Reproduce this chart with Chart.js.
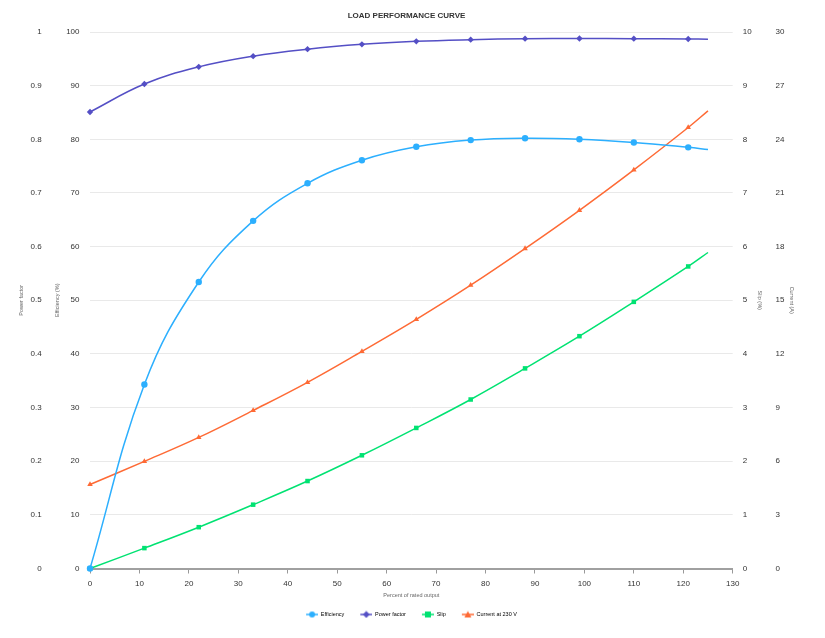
<!DOCTYPE html>
<html>
<head>
<meta charset="utf-8">
<title>Load performance curve</title>
<script src="https://cdn.jsdelivr.net/npm/chart.js@4.4.1/dist/chart.umd.min.js"></script>
<style>
    body { margin: 0; background: #fff; }
    #wrap { width: 825px; height: 638px; position: relative; }
</style>
</head>
<body>
<div id="wrap"><canvas id="loadChart"></canvas></div>
<script>
// percent of rated output (x) - last point only carries the line end, no marker
const loadPct = [0, 11, 22, 33, 44, 55, 66, 77, 88, 99, 110, 121, 125];
const efficiency = [0, 34.3, 53.4, 64.8, 71.8, 76.1, 78.6, 79.85, 80.2, 80.0, 79.4, 78.5, 78.1];
const powerFactor = [0.851, 0.903, 0.935, 0.955, 0.968, 0.977, 0.9826, 0.9857, 0.9876, 0.988, 0.9876, 0.987, 0.9864];
const slip = [0, 0.38, 0.77, 1.19, 1.63, 2.11, 2.62, 3.15, 3.73, 4.33, 4.97, 5.63, 5.89];
const current = [4.7, 5.99, 7.33, 8.84, 10.41, 12.14, 13.93, 15.84, 17.89, 20.03, 22.29, 24.66, 25.59];

const xTicks = { min: 0, max: 130, step: 10 };
const effTicks = { min: 0, max: 100, step: 10 };
const pfTicks = { min: 0, max: 1, step: 0.1 };
const slipTicks = { min: 0, max: 10, step: 1 };
const currentTicks = { min: 0, max: 30, step: 3 };

const FONT = 'Liberation Sans, Arial, Helvetica, sans-serif';
Chart.defaults.font.family = FONT;
Chart.defaults.color = '#333';

const toPoints = (ys) => loadPct.map((x, i) => ({ x: x, y: ys[i] }));
const radii = loadPct.map((x, i) => i === loadPct.length - 1 ? 0 : 3.2);

// legend symbol: short line with the series marker on it
const legendIcon = (color, style) => {
    const c = document.createElement('canvas');
    c.width = 22;
    c.height = 8;
    const g = c.getContext('2d');
    const cx = 16, cy = 4;
    g.strokeStyle = color;
    g.fillStyle = color;
    g.lineWidth = 1.5;
    g.beginPath();
    g.moveTo(10, cy);
    g.lineTo(22, cy);
    g.stroke();
    g.beginPath();
    if (style === 'circle') {
        g.arc(cx, cy, 3, 0, Math.PI * 2);
    } else if (style === 'rectRot') {
        g.moveTo(cx, cy - 3.5); g.lineTo(cx + 3.5, cy); g.lineTo(cx, cy + 3.5); g.lineTo(cx - 3.5, cy);
    } else if (style === 'rect') {
        g.rect(cx - 3, cy - 3, 6, 6);
    } else {
        g.moveTo(cx, cy - 3.5); g.lineTo(cx + 3.5, cy + 3); g.lineTo(cx - 3.5, cy + 3);
    }
    g.closePath();
    g.fill();
    return c;
};

const makeSet = (label, ys, color, style, axis) => ({
    label: label,
    data: toPoints(ys),
    yAxisID: axis,
    borderColor: color,
    backgroundColor: color,
    borderWidth: 1.5,
    pointStyle: style,
    pointRadius: radii,
    pointHoverRadius: radii,
    pointBorderWidth: 0,
    tension: 0.4,
    clip: false,
    legendIcon: legendIcon(color, style)
});

const fixedWidth = (w) => (scale) => { scale.width = w; };

const ctx = document.getElementById('loadChart').getContext('2d');
const chart = new Chart(ctx, {
    type: 'line',
    data: {
        datasets: [
            makeSet('Efficiency', efficiency, '#2caffe', 'circle', 'yEff'),
            makeSet('Power factor', powerFactor, '#544fc5', 'rectRot', 'yPF'),
            makeSet('Slip', slip, '#00e272', 'rect', 'ySlip'),
            makeSet('Current at 230 V', current, '#fe6a35', 'triangle', 'yCur')
        ]
    },
    options: {
        responsive: true,
        maintainAspectRatio: false,
        animation: false,
        layout: { padding: { left: 14, right: 26, top: 0, bottom: 10.8 } },
        plugins: {
            title: {
                display: true,
                text: 'LOAD PERFORMANCE CURVE',
                color: '#333',
                font: { size: 8, weight: 'bold' },
                padding: { top: 11, bottom: 11.4 }
            },
            legend: {
                position: 'bottom',
                labels: {
                    usePointStyle: true,
                    pointStyleWidth: 22,
                    padding: 6,
                    color: '#333',
                    font: { size: 5.5 },
                    generateLabels: (ch) => ch.data.datasets.map((ds, i) => ({
                        text: ds.label,
                        datasetIndex: i,
                        pointStyle: ds.legendIcon,
                        fillStyle: ds.borderColor,
                        strokeStyle: ds.borderColor,
                        lineWidth: 0,
                        hidden: !ch.isDatasetVisible(i)
                    }))
                }
            },
            tooltip: { enabled: false }
        },
        scales: {
            x: {
                type: 'linear',
                min: xTicks.min,
                max: xTicks.max,
                ticks: { stepSize: xTicks.step, padding: 5.5, color: '#333', font: { size: 8 } },
                grid: { display: true, drawOnChartArea: false, drawTicks: true, tickLength: 5, color: '#999' },
                border: { display: true, color: '#a0a0a0', width: 2 },
                title: {
                    display: true,
                    text: 'Percent of rated output',
                    color: '#666',
                    font: { size: 5.5 },
                    padding: { top: -2, bottom: 7 }
                }
            },
            yEff: {
                type: 'linear',
                position: 'left',
                min: effTicks.min,
                max: effTicks.max,
                ticks: { stepSize: effTicks.step, padding: 10.5, color: '#333', font: { size: 8 } },
                grid: { color: '#e9e9e9', drawTicks: false },
                border: { display: false },
                title: { display: true, text: 'Efficiency (%)', color: '#666', font: { size: 5.5 }, padding: { top: 4, bottom: 4 } },
                afterFit: fixedWidth(40.3)
            },
            yPF: {
                type: 'linear',
                position: 'left',
                min: pfTicks.min,
                max: pfTicks.max,
                ticks: {
                    stepSize: pfTicks.step,
                    padding: 8,
                    color: '#333',
                    font: { size: 8 },
                    callback: (v) => String(+v.toFixed(1))
                },
                grid: { display: false, drawTicks: false },
                border: { display: false },
                title: { display: true, text: 'Power factor', color: '#666', font: { size: 5.5 }, padding: { top: 4, bottom: 4 } },
                afterFit: fixedWidth(35.7)
            },
            ySlip: {
                type: 'linear',
                position: 'right',
                min: slipTicks.min,
                max: slipTicks.max,
                ticks: { stepSize: slipTicks.step, padding: 10, color: '#333', font: { size: 8 } },
                grid: { display: false, drawTicks: false },
                border: { display: false },
                title: { display: true, text: 'Slip (%)', color: '#666', font: { size: 5.5 }, padding: { top: 4, bottom: 4 } },
                afterFit: fixedWidth(34.3)
            },
            yCur: {
                type: 'linear',
                position: 'right',
                min: currentTicks.min,
                max: currentTicks.max,
                ticks: { stepSize: currentTicks.step, padding: 8.5, color: '#333', font: { size: 8 } },
                grid: { display: false, drawTicks: false },
                border: { display: false },
                title: { display: true, text: 'Current (A)', color: '#666', font: { size: 5.5 }, padding: { top: 4, bottom: 4 } },
                afterFit: fixedWidth(32)
            }
        }
    }
});
</script>
</body>
</html>
